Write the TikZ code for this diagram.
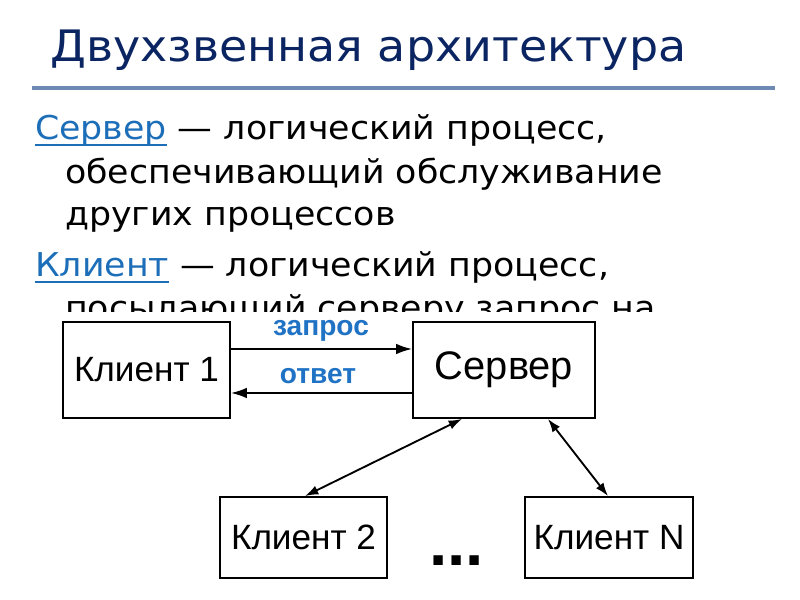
\documentclass[tikz,border=0pt]{standalone}
\usepackage{fontspec}
\usepackage{xcolor}
\setmainfont{DejaVu Sans}[FakeStretch=1.06]
\newfontfamily\arialfont{Liberation Sans}
\usetikzlibrary{arrows.meta}

\definecolor{titleblue}{HTML}{0B2462}
\definecolor{rulegray}{HTML}{6E8AB4}
\definecolor{linkblue}{HTML}{1C6EB8}
\definecolor{labelblue}{HTML}{1F72C4}

% underlined term, as a link
\newcommand{\termlink}[1]{\textcolor{linkblue}{\setbox0\hbox{#1}\rlap{\rule[-5.5pt]{\wd0}{1.7pt}}\box0}}

\begin{document}
\begin{tikzpicture}[x=0.03cm,y=-0.03cm]
	\tikzstyle{every node}+=[inner sep=0pt]
	\tikzstyle{body}=[anchor=base west, font=\fontsize{28}{34}\selectfont]
	\tikzstyle{box}=[draw, line width=1.6pt, font=\arialfont\fontsize{30}{36}\selectfont]
	\tikzstyle{msg}=[text=labelblue, font=\arialfont\bfseries\fontsize{24}{28}\selectfont]
	\tikzstyle{link}=[line width=1.6pt, -{Latex[length=4.8mm,width=3.2mm]}]
	\tikzstyle{duplex}=[line width=1.6pt, {Latex[length=4mm,width=2.8mm]}-{Latex[length=4mm,width=2.8mm]}]
	\useasboundingbox (0,0) rectangle (800,600);
	% title
	\node [anchor=base west, text=titleblue, font=\fontsize{37}{44}\selectfont] (title) at (50,62) {Двухзвенная архитектура};
	\draw [rulegray, line width=3.4pt] (32,88) -- (775,88);
	% definitions
	\node [body] (srvdef) at (35,140) {\termlink{Сервер} — логический процесс,};
	\node [body] (srvdef2) at (65,184) {обеспечивающий обслуживание};
	\node [body] (srvdef3) at (65,226) {других процессов};
	\node [body] (cldef) at (35,277) {\termlink{Клиент} — логический процесс,};
	\node [body] (cldef2) at (65,320) {посылающий серверу запрос на};
	\fill [white] (0,312) rectangle (800,600);
	% diagram
	\node [box, minimum width=5.01cm, minimum height=2.88cm] (client1) at (146.5,370) {Клиент 1};
	\node [box, minimum width=5.46cm, minimum height=2.88cm, font=\arialfont\fontsize{34}{40}\selectfont] (server) at (504,370) {Сервер};
	\node [box, minimum width=5.01cm, minimum height=2.43cm] (client2) at (303.5,537.5) {Клиент 2};
	\node [box, minimum width=5.04cm, minimum height=2.43cm] (clientN) at (609,537.5) {Клиент N};
	\node [anchor=base west, font=\arialfont\bfseries\fontsize{56}{60}\selectfont] (dots) at (429,566) {...};
	\draw [link] (client1.east |- 0,349) -- (server.west |- 0,349);
	\draw [link] (server.west |- 0,393) -- (client1.east |- 0,393);
	\node [msg, anchor=base] (request) at (321,336) {запрос};
	\node [msg, anchor=base] (reply) at (318,384) {ответ};
	\draw [duplex] (server.south -| 462,0) -- (client2.north -| 305,0);
	\draw [duplex] (server.south -| 548,0) -- (clientN.north -| 608,0);
\end{tikzpicture}
\end{document}
